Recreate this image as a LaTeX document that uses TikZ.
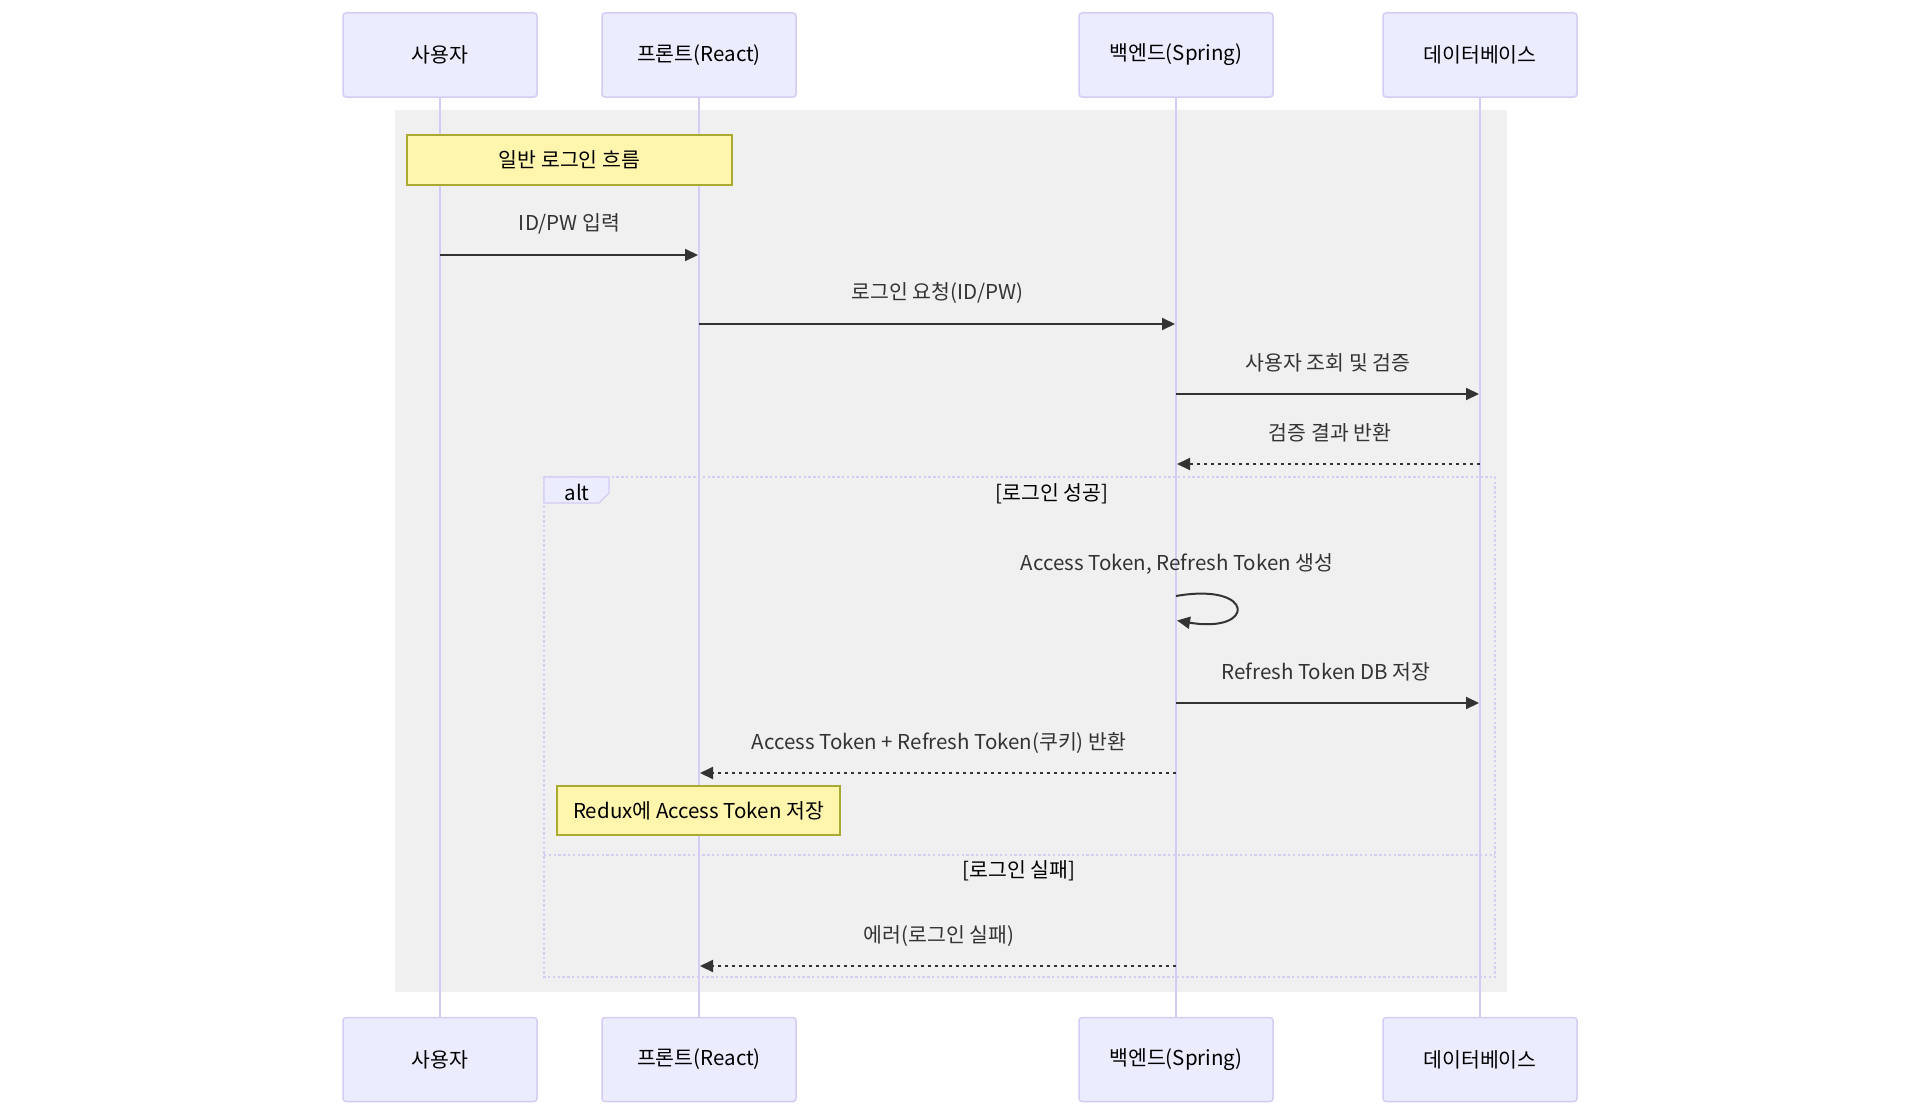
\documentclass[tikz,border=0pt]{standalone}
\usepackage{fontspec}
\setmainfont{Noto Sans CJK KR}
\usetikzlibrary{arrows.meta}
\definecolor{actfill}{HTML}{ECECFF}
\definecolor{actline}{HTML}{D6CBF3}
\definecolor{notefill}{HTML}{FFF5AD}
\definecolor{noteline}{HTML}{AAAA33}
\definecolor{blockgray}{HTML}{F0F0F0}
\definecolor{sig}{HTML}{333333}
\tikzset{
  actor/.style={draw=actline, fill=actfill, line width=1.5pt, rounded corners=3pt,
    minimum width=194pt, minimum height=84pt, inner sep=0pt, font=\fontsize{20.5}{24}\selectfont, text=black},
  life/.style={draw=actline, line width=2pt},
  note/.style={draw=noteline, fill=notefill, line width=1.3pt, inner sep=0pt,
    font=\fontsize{20.5}{24}\selectfont, text=black},
  msg/.style={draw=sig, line width=2pt, -{Triangle[length=13pt,width=12pt]}},
  rmsg/.style={msg, dash pattern=on 3.5pt off 3.5pt},
  lbl/.style={font=\fontsize{20.5}{24}\selectfont, text=sig, inner sep=0pt},
  secl/.style={font=\fontsize{20.5}{24}\selectfont, text=black, inner sep=0pt},
  altframe/.style={draw=actline, line width=2pt, dash pattern=on 2.4pt off 2.4pt},
}
\begin{document}
\begin{tikzpicture}[x=1pt,y=-1pt]
\useasboundingbox (0,0) rectangle (1920,1116);
\fill[white] (0,0) rectangle (1920,1116);
% background block
\fill[blockgray] (395,110) rectangle (1507,992);
% actors
\node[actor] (uT) at (440,55) {사용자};
\node[actor] (fT) at (699,55) {프론트(React)};
\node[actor] (bT) at (1176,55) {백엔드(Spring)};
\node[actor] (dT) at (1480,55) {데이터베이스};
\node[actor] (uB) at (440,1059.5) {사용자};
\node[actor] (fB) at (699,1059.5) {프론트(React)};
\node[actor] (bB) at (1176,1059.5) {백엔드(Spring)};
\node[actor] (dB) at (1480,1059.5) {데이터베이스};
% lifelines
\draw[life] (uT.south) -- (uB.north);
\draw[life] (fT.south) -- (fB.north);
\draw[life] (bT.south) -- (bB.north);
\draw[life] (dT.south) -- (dB.north);
% note 1
\node[note, minimum width=325pt, minimum height=50pt] (n1) at (569.5,160) {일반 로그인 흐름};
% messages
\coordinate (m1a) at (440,255); \coordinate (m1b) at (698,255);
\draw[msg] (m1a) -- (m1b);
\node[lbl] (l1) at (569.5,223.5) {ID/PW 입력};
\coordinate (m2a) at (699,324); \coordinate (m2b) at (1175,324);
\draw[msg] (m2a) -- (m2b);
\node[lbl] (l2) at (937.5,292.5) {로그인 요청(ID/PW)};
\coordinate (m3a) at (1176,394); \coordinate (m3b) at (1479,394);
\draw[msg] (m3a) -- (m3b);
\node[lbl] (l3) at (1328,362.5) {사용자 조회 및 검증};
\coordinate (m4a) at (1480,464); \coordinate (m4b) at (1177,464);
\draw[rmsg] (m4a) -- (m4b);
\node[lbl] (l4) at (1330,432.5) {검증 결과 반환};
% alt frame
\draw[altframe] (544,477) rectangle (1495,977);
\draw[altframe] (544,855) -- (1495,855);
\filldraw[fill=actfill, draw=actline, line width=1.3pt] (544,477) -- (609,477) -- (609,493) -- (599,503) -- (544,503) -- cycle;
\node[secl] (altl) at (577,492) {alt};
\node[secl] (s1) at (1052,493.5) {[로그인 성공]};
\node[secl] (s2) at (1019,871) {[로그인 실패]};
% self message
\coordinate (m5a) at (1176,596); \coordinate (m5b) at (1177,620.5);
\draw[msg] (m5a) .. controls (1256,582) and (1256,634) .. (m5b);
\node[lbl] (l5) at (1177,563.5) {Access Token, Refresh Token 생성};
\coordinate (m6a) at (1176,703); \coordinate (m6b) at (1479,703);
\draw[msg] (m6a) -- (m6b);
\node[lbl] (l6) at (1326,671.5) {Refresh Token DB 저장};
\coordinate (m7a) at (1176,773); \coordinate (m7b) at (700,773);
\draw[rmsg] (m7a) -- (m7b);
\node[lbl] (l7) at (939,742.5) {Access Token + Refresh Token(쿠키) 반환};
\node[note, minimum width=283pt, minimum height=49pt] (n2) at (698.5,810.5) {Redux에 Access Token 저장};
\coordinate (m8a) at (1176,966); \coordinate (m8b) at (700,966);
\draw[rmsg] (m8a) -- (m8b);
\node[lbl] (l8) at (939,936.5) {에러(로그인 실패)};
\end{tikzpicture}
\end{document}
